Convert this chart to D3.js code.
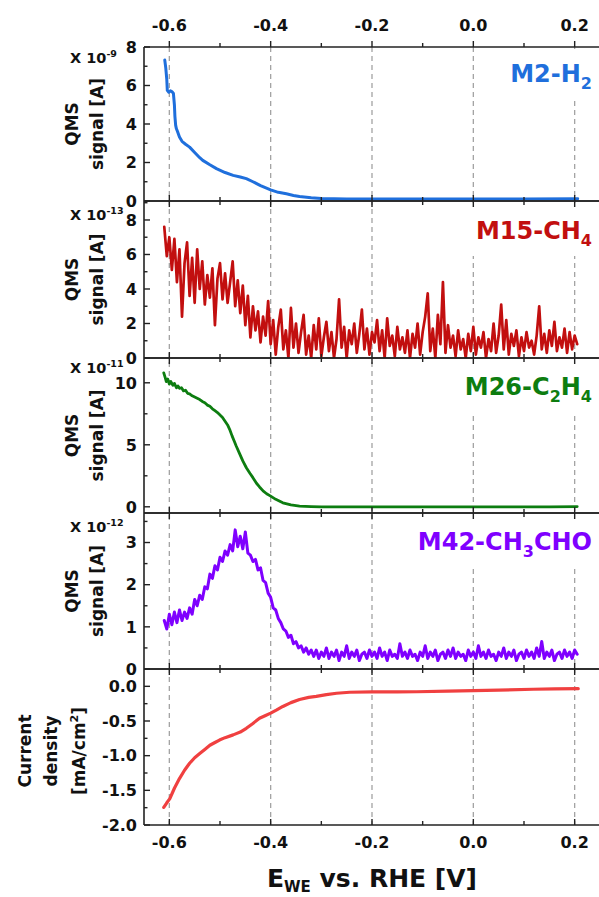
<!DOCTYPE html>
<html><head><meta charset="utf-8">
<script src="https://cdn.jsdelivr.net/npm/d3@7"></script>
<style>
body{margin:0;background:#fff}
svg{display:block}
text{font-family:"DejaVu Sans",sans-serif;font-weight:bold;fill:#111}
</style>
</head><body><svg id="c" width="599" height="897"></svg>
<script>
// ---------- data ----------
const potentialTicks = [-0.6, -0.4, -0.2, 0.0, 0.2];
const potentialMinorTicks = [-0.5, -0.3, -0.1, 0.1];

// M2-H2 (x 1e-9 A)
const h2Potential = [-0.609,-0.607,-0.605,-0.604,-0.601,-0.598,-0.595,-0.592,-0.590,-0.589,-0.5875,-0.586,-0.583,-0.580,-0.575,-0.568,-0.560,-0.550,-0.540,-0.534,-0.520,-0.507,-0.490,-0.474,-0.460,-0.448,-0.435,-0.420,-0.400,-0.385,-0.369,-0.355,-0.343,-0.320,-0.300,-0.250,-0.200,-0.100,0.000,0.100,0.206];
const h2Signal = [7.32,6.9,6.3,5.75,5.65,5.72,5.68,5.6,5.0,4.4,3.93,3.75,3.55,3.32,3.1,2.95,2.80,2.52,2.25,2.11,1.88,1.68,1.48,1.33,1.25,1.16,1.0,0.80,0.58,0.45,0.375,0.29,0.23,0.17,0.13,0.11,0.10,0.10,0.10,0.10,0.12];

// sampled scans (start potential, step)
const scanStart = -0.61, scanStep = 0.005;

// M15-CH4 (x 1e-13 A)
const ch4Signal = [
7.6,5.9,7.0,5.1,6.9,4.4,6.3,2.4,5.5,6.7,
3.6,5.8,3.2,6.3,4.0,5.6,3.1,4.8,3.5,5.2,
1.9,4.6,5.5,3.4,4.9,3.2,4.4,5.6,3.0,4.5,
2.6,4.2,1.9,3.6,1.2,3.0,1.6,2.7,0.9,2.4,
1.3,3.3,0.8,2.2,0.2,1.8,2.8,0.5,1.6,0.0,
2.9,0.6,2.0,0.3,1.5,2.5,0.2,1.3,0.0,1.9,
0.5,2.3,0.1,1.2,2.1,0.4,1.5,0.0,1.1,3.4,
0.6,1.8,0.0,1.6,0.8,2.0,0.3,1.4,2.8,0.5,
1.7,0.2,1.5,0.9,2.2,0.4,1.6,0.0,2.3,0.7,
1.3,0.1,1.8,0.5,1.2,0.3,1.6,0.0,1.4,0.6,
2.0,0.2,1.5,2.4,3.75,0.4,1.7,0.0,2.5,0.8,
4.4,0.3,1.9,0.6,1.3,0.1,1.6,0.5,1.1,0.0,
1.4,0.4,1.8,0.2,1.2,0.6,1.5,0.0,1.1,0.4,
2.0,0.3,1.3,3.1,0.5,2.2,0.2,1.4,0.7,1.6,
0.1,1.2,0.4,1.5,0.6,1.0,0.2,1.3,3.0,0.5,
1.4,0.3,1.6,0.7,2.1,0.4,1.2,0.6,1.7,0.3,
1.5,0.5,1.3,0.8];

// M26-C2H4 (x 1e-11 A)
const c2h4Potential = [-0.611,-0.608,-0.606,-0.603,-0.600,-0.597,-0.593,-0.590,-0.586,-0.583,-0.580,-0.576,-0.572,-0.568,-0.564,-0.560,-0.555,-0.550,-0.545,-0.540,-0.535,-0.530,-0.525,-0.520,-0.515,-0.510,-0.505,-0.500,-0.495,-0.490,-0.485,-0.481,-0.476,-0.472,-0.468,-0.462,-0.455,-0.448,-0.441,-0.435,-0.428,-0.422,-0.415,-0.408,-0.400,-0.390,-0.376,-0.360,-0.343,-0.320,-0.300,-0.250,-0.200,-0.150,-0.100,-0.050,0.000,0.050,0.100,0.150,0.205];
const c2h4Signal = [10.8,10.4,10.1,10.3,9.9,10.1,9.8,9.95,9.6,9.75,9.55,9.6,9.35,9.4,9.15,9.1,8.95,8.85,8.75,8.65,8.5,8.4,8.2,8.1,7.9,7.75,7.6,7.4,7.2,6.9,6.6,6.25,5.7,5.3,4.9,4.35,3.7,3.15,2.7,2.35,1.9,1.6,1.28,1.05,0.86,0.6,0.32,0.15,0.05,0.02,0.0,0.0,0.0,0.0,0.0,0.0,0.0,0.0,0.0,0.0,0.02];

// M42-CH3CHO (x 1e-12 A)
const acetaldehydeSignal = [
1.15,0.95,1.30,1.05,1.35,1.10,1.40,1.15,1.35,1.20,
1.45,1.30,1.65,1.50,1.75,1.65,1.95,1.90,2.25,2.15,
2.45,2.35,2.65,2.55,2.80,2.70,2.95,2.80,3.30,2.90,
3.15,2.85,3.25,2.75,2.70,2.55,2.60,2.35,2.40,2.10,
2.05,1.80,1.70,1.45,1.40,1.20,1.10,0.95,0.90,0.75,
0.80,0.60,0.65,0.50,0.55,0.40,0.50,0.35,0.45,0.30,
0.45,0.25,0.40,0.30,0.50,0.25,0.40,0.30,0.45,0.20,
0.40,0.30,0.55,0.25,0.40,0.30,0.45,0.20,0.35,0.40,
0.25,0.45,0.30,0.40,0.25,0.50,0.30,0.40,0.20,0.45,
0.30,0.35,0.25,0.60,0.30,0.40,0.25,0.45,0.30,0.35,
0.20,0.40,0.30,0.55,0.25,0.40,0.30,0.45,0.20,0.35,
0.40,0.25,0.45,0.30,0.50,0.25,0.40,0.30,0.35,0.20,
0.45,0.30,0.40,0.25,0.55,0.30,0.40,0.25,0.45,0.30,
0.35,0.20,0.40,0.30,0.50,0.25,0.40,0.30,0.45,0.20,
0.35,0.40,0.25,0.45,0.30,0.40,0.25,0.50,0.30,0.65,
0.25,0.40,0.30,0.45,0.20,0.35,0.40,0.25,0.45,0.30,
0.40,0.25,0.45,0.35];

// Current density (mA/cm2)
const currentPotential = [-0.611,-0.605,-0.599,-0.590,-0.580,-0.570,-0.560,-0.550,-0.540,-0.530,-0.520,-0.510,-0.501,-0.490,-0.474,-0.460,-0.448,-0.435,-0.422,-0.410,-0.400,-0.388,-0.376,-0.360,-0.343,-0.325,-0.310,-0.290,-0.270,-0.244,-0.200,-0.150,-0.112,-0.050,0.000,0.050,0.118,0.160,0.207];
const currentDensity = [-1.745,-1.68,-1.62,-1.47,-1.33,-1.21,-1.11,-1.03,-0.97,-0.91,-0.85,-0.81,-0.775,-0.74,-0.70,-0.66,-0.605,-0.535,-0.46,-0.42,-0.387,-0.34,-0.29,-0.235,-0.19,-0.16,-0.145,-0.12,-0.10,-0.085,-0.08,-0.08,-0.078,-0.07,-0.062,-0.055,-0.042,-0.038,-0.033];

// ---------- layout ----------
const svg = d3.select("#c");
const left = 144, right = 600;
const x = d3.scaleLinear().domain([-0.65, 0.25]).range([left, right]);
const scanX = (arr) => arr.map((_, i) => scanStart + i * scanStep);

const panels = [
  {id:"p1", top:47, bottom:201, domain:[0,8], ticks:[0,2,4,6,8], minor:[1,3,5,7], fmt:d=>String(d),
   xs:h2Potential, ys:h2Signal, color:"#1f6fdc", width:3,
   exp:"-9", expY:63, label:[["M2-H",0],["2",1]], labelY:82,
   title:["QMS","signal [A]"]},
  {id:"p2", top:201, bottom:358, domain:[0,9.1], ticks:[0,2,4,6,8], minor:[1,3,5,7,9], fmt:d=>String(d),
   xs:scanX(ch4Signal), ys:ch4Signal, color:"#c20f0f", width:2.7,
   exp:"-13", expY:220, label:[["M15-CH",0],["4",1]], labelY:239,
   title:["QMS","signal [A]"]},
  {id:"p3", top:358, bottom:513, domain:[-0.5,12], ticks:[0,5,10], minor:[2.5,7.5], fmt:d=>String(d),
   xs:c2h4Potential, ys:c2h4Signal, color:"#0d7d10", width:2.8,
   exp:"-11", expY:373, label:[["M26-C",0],["2",1],["H",0],["4",1]], labelY:395,
   title:["QMS","signal [A]"]},
  {id:"p4", top:513, bottom:669, domain:[0,3.7], ticks:[0,1,2,3], minor:[0.5,1.5,2.5,3.5], fmt:d=>String(d),
   xs:scanX(acetaldehydeSignal), ys:acetaldehydeSignal, color:"#7f00ff", width:3,
   exp:"-12", expY:532, label:[["M42-CH",0],["3",1],["CHO",0]], labelY:550,
   title:["QMS","signal [A]"]},
  {id:"p5", top:669, bottom:825, domain:[-2,0.25], ticks:[-2,-1.5,-1,-0.5,0], minor:[-1.75,-1.25,-0.75,-0.25], fmt:d=>d.toFixed(1),
   xs:currentPotential, ys:currentDensity, color:"#f04040", width:3.2,
   exp:null, label:null, title:null}
];

const defs = svg.append("defs");
const gridG = svg.append("g");
const labelG = svg.append("g");
const dataG = svg.append("g");
const axisG = svg.append("g");

// gridlines
gridG.selectAll("line").data(potentialTicks).join("line")
  .attr("x1", d => x(d)).attr("x2", d => x(d))
  .attr("y1", panels[0].top).attr("y2", panels[4].bottom)
  .attr("stroke", "#a3a3a3").attr("stroke-width", 1.3).attr("stroke-dasharray", "5,4");

panels.forEach((p, pi) => {
  const y = d3.scaleLinear().domain(p.domain).range([p.bottom, p.top]);
  p.y = y;
  defs.append("clipPath").attr("id", "clip-" + p.id).append("rect")
    .attr("x", left).attr("y", p.top).attr("width", right - left).attr("height", p.bottom - p.top);

  // series label with white box
  if (p.label) {
    const t = labelG.append("text").attr("x", 592).attr("y", p.labelY)
      .attr("text-anchor", "end").attr("font-size", 24).style("fill", p.color);
    let shifted = false;
    p.label.forEach(([s, sub]) => {
      const ts = t.append("tspan").text(s);
      if (sub && !shifted) { ts.attr("dy", 7).attr("font-size", 16); shifted = true; }
      else if (sub) { ts.attr("font-size", 16); }
      else if (!sub && shifted) { ts.attr("dy", -7); shifted = false; }
    });
    const bb = t.node().getBBox();
    labelG.insert("rect", "text").attr("x", bb.x - 6).attr("y", p.top + 2)
      .attr("width", bb.width + 14).attr("height", bb.y + bb.height + 6 - p.top - 2)
      .attr("fill", "#fff");
  }

  // data
  const line = d3.line().x((d, i) => x(p.xs[i])).y(d => y(d));
  dataG.append("path").datum(p.ys)
    .attr("clip-path", `url(#clip-${p.id})`)
    .attr("d", line).attr("fill", "none")
    .attr("stroke", p.color).attr("stroke-width", p.width)
    .attr("stroke-linejoin", "round").attr("stroke-linecap", "round");

  // y axis ticks (inward)
  axisG.append("g").selectAll("line").data(p.ticks.filter(t => y(t) >= p.top - 0.5 && y(t) <= p.bottom + 0.5)).join("line")
    .attr("x1", left).attr("x2", left + 6).attr("y1", d => y(d)).attr("y2", d => y(d))
    .attr("stroke", "#222").attr("stroke-width", 1.4);
  axisG.append("g").selectAll("line").data(p.minor.filter(t => y(t) > p.top && y(t) < p.bottom)).join("line")
    .attr("x1", left).attr("x2", left + 3.5).attr("y1", d => y(d)).attr("y2", d => y(d))
    .attr("stroke", "#222").attr("stroke-width", 1.4);
  axisG.append("g").selectAll("text").data(p.ticks).join("text")
    .attr("x", 137).attr("y", d => y(d)).attr("dy", "0.36em")
    .attr("text-anchor", "end").attr("font-size", 16).text(p.fmt);

  // x ticks
  const allX = potentialTicks.map(v => [v, 6]).concat(potentialMinorTicks.map(v => [v, 4]));
  axisG.append("g").selectAll("line").data(allX).join("line")
    .attr("x1", d => x(d[0])).attr("x2", d => x(d[0]))
    .attr("y1", p.bottom).attr("y2", d => p.bottom - d[1])
    .attr("stroke", "#222").attr("stroke-width", 1.4);
  axisG.append("g").selectAll("line").data(allX).join("line")
    .attr("x1", d => x(d[0])).attr("x2", d => x(d[0]))
    .attr("y1", p.top).attr("y2", d => pi === 0 ? p.top - d[1] : p.top + d[1])
    .attr("stroke", "#222").attr("stroke-width", 1.4);

  axisG.append("line").attr("x1", left).attr("x2", right).attr("y1", p.top).attr("y2", p.top)
    .attr("stroke", "#222").attr("stroke-width", 1.6);
  axisG.append("line").attr("x1", left).attr("x2", right).attr("y1", p.bottom).attr("y2", p.bottom)
    .attr("stroke", "#222").attr("stroke-width", 1.6);

  if (p.exp) {
    const e = axisG.append("text").attr("x", 70).attr("y", p.expY).attr("font-size", 14.5);
    e.append("tspan").text("X 10");
    e.append("tspan").attr("dy", -6).attr("font-size", 9.5).text(p.exp);
  }

  const cy = (p.top + p.bottom) / 2;
  if (p.title) {
    axisG.append("text").attr("transform", `translate(78,${cy}) rotate(-90)`)
      .attr("text-anchor", "middle").attr("font-size", 17).text(p.title[0]);
    axisG.append("text").attr("transform", `translate(103,${cy}) rotate(-90)`)
      .attr("text-anchor", "middle").attr("font-size", 17).text(p.title[1]);
  }
});

// current density title
const cy5 = 751;
axisG.append("text").attr("transform", `translate(31,${cy5}) rotate(-90)`)
  .attr("text-anchor", "middle").attr("font-size", 17).text("Current");
axisG.append("text").attr("transform", `translate(56.5,${cy5}) rotate(-90)`)
  .attr("text-anchor", "middle").attr("font-size", 17).text("density");
const cd = axisG.append("text").attr("transform", `translate(85,${cy5}) rotate(-90)`)
  .attr("text-anchor", "middle").attr("font-size", 17);
cd.append("tspan").text("[mA/cm");
cd.append("tspan").attr("dy", -7).attr("font-size", 11).text("2");
cd.append("tspan").attr("dy", 7).text("]");

// spines
axisG.append("line").attr("x1", left).attr("x2", left).attr("y1", panels[0].top).attr("y2", panels[4].bottom)
  .attr("stroke", "#222").attr("stroke-width", 1.6);
axisG.append("line").attr("x1", right).attr("x2", right).attr("y1", panels[0].top).attr("y2", panels[4].bottom)
  .attr("stroke", "#222").attr("stroke-width", 1.6);

// x tick labels top and bottom
const fmtX = d => d.toFixed(1);
axisG.append("g").selectAll("text").data(potentialTicks).join("text")
  .attr("x", d => x(d)).attr("y", 30.5).attr("text-anchor", "middle").attr("font-size", 16).text(fmtX);
axisG.append("g").selectAll("text").data(potentialTicks).join("text")
  .attr("x", d => x(d)).attr("y", 848).attr("text-anchor", "middle").attr("font-size", 16).text(fmtX);

// x title
const xt = axisG.append("text").attr("x", (left + right) / 2).attr("y", 887)
  .attr("text-anchor", "middle").attr("font-size", 25);
xt.append("tspan").text("E");
xt.append("tspan").attr("dy", 5).attr("font-size", 15).text("WE");
xt.append("tspan").attr("dy", -5).text(" vs. RHE [V]");
</script>
</body></html>
